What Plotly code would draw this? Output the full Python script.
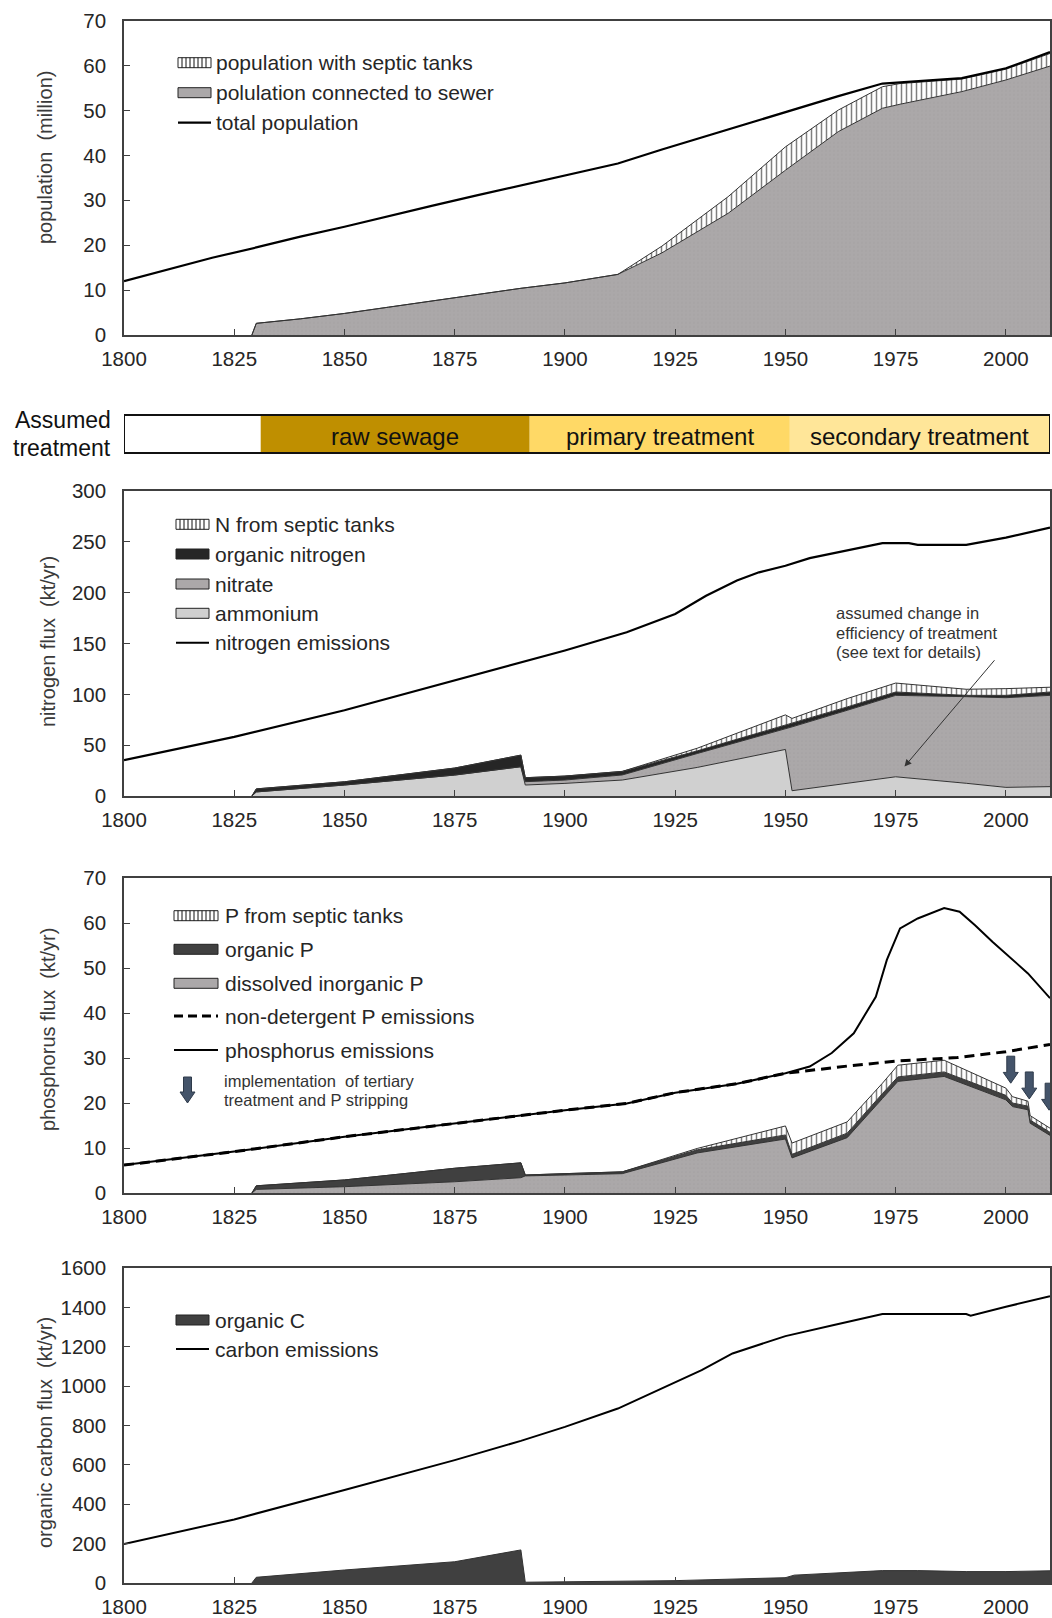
import plotly.graph_objects as go

# ---------------- figure geometry ----------------
W, H = 1052, 1618
ML, MR = 124, 2
PW = W - ML - MR
X0, X1 = 1800, 2010
FONT = "Liberation Sans, Arial, sans-serif"
TXT = "#262626"

# ---------------- population ----------------
pop_years = [1800, 1810, 1820, 1830, 1840, 1850, 1860, 1870, 1880, 1890, 1900,
             1912, 1922, 1932, 1940, 1950, 1962, 1972, 1976, 1990, 2000, 2010]
total_population = [12.0, 14.6, 17.2, 19.5, 21.9, 24.1, 26.5, 28.8, 31.1, 33.3, 35.4,
                    38.2, 41.3, 44.3, 46.6, 49.7, 53.2, 56.0, 56.3, 57.2, 59.4, 63.0]

sewer_years = [1829, 1830, 1840, 1850, 1860, 1870, 1880, 1890, 1900, 1912, 1922,
               1930, 1937, 1950, 1962, 1972, 1976, 1990, 2000, 2010]
sewer_population = [0, 2.6, 3.6, 4.8, 6.2, 7.6, 9.0, 10.4, 11.6, 13.5, 18.3,
                    23.0, 27.1, 36.7, 45.3, 50.5, 51.4, 54.2, 56.8, 59.9]
septic_population = [0, 0, 0, 0, 0, 0, 0, 0, 0, 0, 1.5,
                     2.7, 3.7, 5.2, 4.8, 4.8, 4.6, 2.8, 2.4, 2.8]

# ---------------- treatment periods ----------------
treatment_starts = [1800, 1831, 1892, 1951]
treatment_ends = [1831, 1892, 1951, 2010]
treatment_labels = ["", "raw sewage", "primary treatment", "secondary treatment"]
treatment_colors = ["#ffffff", "#bf8f00", "#ffd966", "#ffe699"]

# ---------------- nitrogen ----------------
n_em_years = [1800, 1825, 1850, 1875, 1890, 1900, 1914, 1925, 1932, 1939, 1944,
              1950, 1955.5, 1964, 1972, 1978, 1980, 1991, 2000, 2010]
n_emissions = [35.3, 58.2, 84.3, 113.7, 130.7, 143.1, 161.0, 179.1, 197.0, 212.0, 220.0,
               226.5, 234.0, 241.2, 248.7, 248.7, 247.0, 247.0, 254.2, 264.0]

n_years = [1829, 1830, 1850, 1875, 1890, 1891, 1900, 1913, 1930, 1950,
           1951.5, 1964, 1975, 1991, 2000, 2010]
ammonium = [0, 4.0, 10.8, 20.6, 28.8, 10.8, 12.4, 15.7, 28.1, 45.8,
            5.2, 12.5, 18.9, 12.5, 8.5, 9.2]
nitrate = [0, 0, 0, 0, 0, 3.3, 3.3, 5.0, 13.7, 20.5,
           62.8, 71.8, 80.1, 85.2, 88.2, 89.8]
organic_n = [0, 3.0, 3.2, 6.9, 11.4, 3.9, 3.9, 3.5, 2.6, 3.5,
             3.4, 3.3, 3.3, 1.3, 2.3, 3.3]
septic_n = [0, 0, 0, 0, 0, 0, 0, 0, 2.6, 10.0,
            4.9, 8.2, 8.8, 6.0, 6.6, 4.7]

# ---------------- phosphorus ----------------
p_em_years = [1800, 1825, 1850, 1875, 1890, 1900, 1914, 1925, 1939, 1950, 1955.5,
              1960.5, 1965.5, 1970.5, 1973, 1976, 1980, 1986, 1989.5, 1993, 1997,
              2005, 2010]
p_emissions = [6.2, 9.2, 12.5, 15.5, 17.2, 18.4, 19.9, 22.3, 24.3, 26.6, 28.1,
               31.1, 35.5, 43.6, 51.8, 58.8, 61.0, 63.3, 62.5, 59.5, 55.8,
               48.8, 43.3]
nd_years = [1800, 1825, 1850, 1875, 1890, 1900, 1914, 1925, 1939, 1950,
            1964, 1975, 1989, 2000, 2010]
p_non_detergent = [6.2, 9.2, 12.5, 15.5, 17.2, 18.4, 19.9, 22.3, 24.3, 26.6,
                   28.2, 29.3, 30.1, 31.4, 33.0]

p_years = [1829, 1830, 1850, 1875, 1890, 1891, 1900, 1913, 1930, 1950, 1951.5,
           1964, 1972, 1975.5, 1986, 2000, 2001.5, 2005, 2005.5, 2010]
dip = [0, 0.8, 1.4, 2.5, 3.4, 3.8, 4.0, 4.3, 8.9, 12.0, 7.8,
       12.3, 21.0, 24.8, 25.9, 20.7, 19.2, 18.5, 15.5, 12.8]
organic_p = [0, 0.8, 1.5, 3.0, 3.3, 0.2, 0.3, 0.4, 0.7, 0.9, 0.8,
             1.0, 1.1, 1.0, 1.0, 1.0, 0.8, 0.8, 0.7, 0.7]
septic_p = [0, 0, 0, 0, 0, 0, 0, 0, 0.3, 2.0, 2.5,
            2.5, 2.3, 2.6, 2.6, 1.6, 1.4, 1.1, 1.0, 0.9]

tertiary_years = [2001.1, 2005.3, 2009.8]
tertiary_tip = [24.4, 20.9, 18.4]

# ---------------- carbon ----------------
c_em_years = [1800, 1825, 1850, 1875, 1890, 1900, 1912, 1925, 1931, 1938, 1944, 1950,
              1961, 1972, 1991, 1992, 2000, 2010]
c_emissions = [198, 323, 472, 624, 722, 793, 886, 1022, 1081, 1166, 1212, 1254,
               1310, 1366, 1366, 1358, 1403, 1457]
c_years = [1829, 1830, 1850, 1875, 1890, 1891, 1925, 1950, 1952, 1972, 1980,
           1991, 2000, 2010]
organic_c = [0, 29, 66, 108, 168, 4, 12, 27, 40, 63, 63, 58, 58, 62]

# ---------------- styles ----------------
GRAY = "#aba8a9"
LIGHT = "#d0d0d0"
DARK_N = "#262626"
DARK = "#404040"
ARROW_BLUE = "#44546a"
STRIPES = dict(shape="|", fgcolor="#000000", bgcolor="#ffffff", size=5, solidity=0.3)
DOTS = dict(shape=".", fgcolor="#9d999c", bgcolor=GRAY, size=4, solidity=0.15)
EDGE = dict(color="#333333", width=1)

# panel pixel extents (top, bottom)
panels = [(20.7, 335), (491, 796), (878, 1193), (1268, 1583)]
y_ranges = [[0, 70], [0, 300], [0, 70], [0, 1600]]
y_dticks = [10, 50, 10, 200]


def px_x(x):
    return (x - ML) / PW


def px_y(y):
    return 1 - y / H


fig = go.Figure()


def area(x, y, ax, group, fillcolor, pattern=None, line=EDGE):
    fig.add_trace(go.Scatter(
        x=x, y=y, xaxis="x" + ax, yaxis="y" + ax, mode="lines",
        stackgroup=group, line=line, fillcolor=fillcolor,
        fillpattern=pattern, hoverinfo="skip", showlegend=False))


def curve(x, y, ax, width=2.2, dash=None):
    fig.add_trace(go.Scatter(
        x=x, y=y, xaxis="x" + ax, yaxis="y" + ax, mode="lines",
        line=dict(color="#000000", width=width, dash=dash),
        hoverinfo="skip", showlegend=False))


# panel 1: population
area(sewer_years, sewer_population, "", "pop", GRAY, DOTS)
area(sewer_years, septic_population, "", "pop", "#ffffff", STRIPES)
curve(pop_years, total_population, "")

# panel 2: nitrogen
area(n_years, ammonium, "2", "n", LIGHT)
area(n_years, nitrate, "2", "n", GRAY, DOTS)
area(n_years, organic_n, "2", "n", DARK_N)
area(n_years, septic_n, "2", "n", "#ffffff", STRIPES)
curve(n_em_years, n_emissions, "2")

# panel 3: phosphorus
area(p_years, dip, "3", "p", GRAY, DOTS)
area(p_years, organic_p, "3", "p", DARK)
area(p_years, septic_p, "3", "p", "#ffffff", STRIPES)
curve(nd_years, p_non_detergent, "3", width=3, dash="10px,6px")
curve(p_em_years, p_emissions, "3", width=2)

# panel 4: carbon
area(c_years, organic_c, "4", "c", DARK)
curve(c_em_years, c_emissions, "4", width=2)

# ---------------- axes ----------------
layout = dict(
    width=W, height=H, margin=dict(l=ML, r=MR, t=0, b=0, autoexpand=False),
    paper_bgcolor="white", plot_bgcolor="white", showlegend=False,
    font=dict(family=FONT, size=20, color=TXT),
)
for i, ((top, bottom), yr, dt) in enumerate(zip(panels, y_ranges, y_dticks)):
    sfx = "" if i == 0 else str(i + 1)
    layout["xaxis" + sfx] = dict(
        domain=[0, 1], range=[X0, X1], anchor="y" + sfx, automargin=False,
        tickvals=list(range(1800, 2001, 25)), ticks="inside", ticklen=6,
        tickwidth=1, tickcolor="#404040", showline=True, linecolor="#404040",
        linewidth=1.5, mirror=True, showgrid=False, zeroline=False,
        tickfont=dict(family=FONT, size=20.5, color=TXT), ticklabelstandoff=5,
        fixedrange=True)
    layout["yaxis" + sfx] = dict(
        domain=[px_y(bottom), px_y(top)], range=yr, dtick=dt, anchor="x" + sfx,
        automargin=False, ticks="inside", ticklen=6, tickwidth=1, tickcolor="#404040",
        showline=True, linecolor="#404040", linewidth=1.5, mirror=True,
        showgrid=False, zeroline=False,
        tickfont=dict(family=FONT, size=20.5, color=TXT), ticklabelstandoff=12,
        fixedrange=True)
fig.update_layout(**layout)

shapes = []
annotations = []

# y-axis titles
y_titles = [("population  (million)", 45, 158),
            ("nitrogen flux  (kt/yr)", 48, 642),
            ("phosphorus flux  (kt/yr)", 48, 1030),
            ("organic carbon flux  (kt/yr)", 45, 1433)]
for text, xp, yp in y_titles:
    annotations.append(dict(text=text, x=px_x(xp), y=px_y(yp), xref="paper", yref="paper",
                            showarrow=False, textangle=-90, xanchor="center", yanchor="middle",
                            font=dict(size=20, color="#3a3a3a")))

# treatment bar
BAR_TOP, BAR_BOTTOM = 415, 453
for s, e, lab, col in zip(treatment_starts, treatment_ends, treatment_labels, treatment_colors):
    shapes.append(dict(type="rect", xref="x", yref="paper", x0=s, x1=e,
                       y0=px_y(BAR_BOTTOM), y1=px_y(BAR_TOP), fillcolor=col,
                       line=dict(width=0), layer="above"))
    if lab:
        annotations.append(dict(text=lab, x=(s + e) / 2, y=px_y((BAR_TOP + BAR_BOTTOM) / 2 + 2),
                                xref="x", yref="paper", showarrow=False,
                                xanchor="center", yanchor="middle",
                                font=dict(size=24, color="#111111")))
shapes.append(dict(type="rect", xref="x", yref="paper", x0=X0, x1=X1,
                   y0=px_y(BAR_BOTTOM), y1=px_y(BAR_TOP), fillcolor="rgba(0,0,0,0)",
                   line=dict(color="#111111", width=2), layer="above"))
for text, yp in [("Assumed", 420), ("treatment", 448)]:
    annotations.append(dict(text=text, x=px_x(113), y=px_y(yp), xref="paper", yref="paper",
                            showarrow=False, xanchor="right", yanchor="middle",
                            font=dict(size=23, color="#111111")))


# legends
def legend(items, x0, x1, text_x, size=21):
    for kind, style, label, yc in items:
        if kind in ("fill", "stripes"):
            shapes.append(dict(type="rect", xref="paper", yref="paper",
                               x0=px_x(x0), x1=px_x(x1), y0=px_y(yc + 5), y1=px_y(yc - 5),
                               fillcolor=style if kind == "fill" else "#ffffff",
                               line=dict(color="#222222", width=1)))
            if kind == "stripes":
                xs = x0 + 4
                while xs < x1 - 1:
                    shapes.append(dict(type="line", xref="paper", yref="paper",
                                       x0=px_x(xs), x1=px_x(xs), y0=px_y(yc + 5), y1=px_y(yc - 5),
                                       line=dict(color="#111111", width=1)))
                    xs += 4
        elif kind == "line":
            shapes.append(dict(type="line", xref="paper", yref="paper",
                               x0=px_x(x0), x1=px_x(x1), y0=px_y(yc), y1=px_y(yc),
                               line=dict(color="#000000", width=style[0], dash=style[1])))
        annotations.append(dict(text=label, x=px_x(text_x), y=px_y(yc), xref="paper",
                                yref="paper", showarrow=False, xanchor="left",
                                yanchor="middle", font=dict(size=size, color=TXT)))


legend([("stripes", None, "population with septic tanks", 62.7),
        ("fill", GRAY, "polulation connected to sewer", 92.7),
        ("line", (2.2, None), "total population", 122.7)], 178, 211, 214)

legend([("stripes", None, "N from septic tanks", 524.3),
        ("fill", DARK_N, "organic nitrogen", 554),
        ("fill", GRAY, "nitrate", 584),
        ("fill", LIGHT, "ammonium", 613.3),
        ("line", (2, None), "nitrogen emissions", 642.7)], 176, 209, 213)

legend([("stripes", None, "P from septic tanks", 915.7),
        ("fill", DARK, "organic P", 949.3),
        ("fill", GRAY, "dissolved inorganic P", 983.3),
        ("line", (3, "9px,5px"), "non-detergent P emissions", 1016),
        ("line", (2, None), "phosphorus emissions", 1050)], 174, 218, 223)

legend([("fill", DARK, "organic C", 1320),
        ("line", (2, None), "carbon emissions", 1349)], 176, 209, 213)

# nitrogen note
for text, yp in [("assumed change in", 613), ("efficiency of treatment", 633),
                 ("(see text for details)", 652)]:
    annotations.append(dict(text=text, x=px_x(834), y=px_y(yp), xref="paper", yref="paper",
                            showarrow=False, xanchor="left", yanchor="middle",
                            font=dict(size=16.5, color="#333333")))
annotations.append(dict(text="", x=1977, y=29, ax=1997.7, ay=135, xref="x2", yref="y2",
                        axref="x2", ayref="y2", showarrow=True, arrowhead=2, arrowsize=1.4,
                        arrowwidth=1, arrowcolor="#333333"))


# tertiary treatment arrows
def block_arrow(xc, y_tip, y_top, hs, hh, hl):
    return (f"M {xc - hs},{y_top} L {xc + hs},{y_top} L {xc + hs},{y_tip + hl} "
            f"L {xc + hh},{y_tip + hl} L {xc},{y_tip} L {xc - hh},{y_tip + hl} "
            f"L {xc - hs},{y_tip + hl} Z")


for xc, tip in zip(tertiary_years, tertiary_tip):
    shapes.append(dict(type="path", xref="x3", yref="y3",
                       path=block_arrow(xc, tip, tip + 6.0, 0.9, 1.7, 2.4),
                       fillcolor=ARROW_BLUE, line=dict(color="#2e3a4a", width=1), layer="above"))

# legend arrow (paper space)
lx, ltop, ltip = 187.5, 1077, 1103
hs, hh, hl = 4 / PW, 7.5 / PW, 11 / H
shapes.append(dict(type="path", xref="paper", yref="paper",
                   path=block_arrow(px_x(lx), px_y(ltip), px_y(ltop), hs, hh, hl),
                   fillcolor=ARROW_BLUE, line=dict(color="#2e3a4a", width=1)))
for text, yp in [("implementation  of tertiary", 1081), ("treatment and P stripping", 1100)]:
    annotations.append(dict(text=text, x=px_x(222), y=px_y(yp), xref="paper", yref="paper",
                            showarrow=False, xanchor="left", yanchor="middle",
                            font=dict(size=16.5, color="#333333")))

fig.update_layout(shapes=shapes, annotations=annotations)
fig.write_html("out.html")
